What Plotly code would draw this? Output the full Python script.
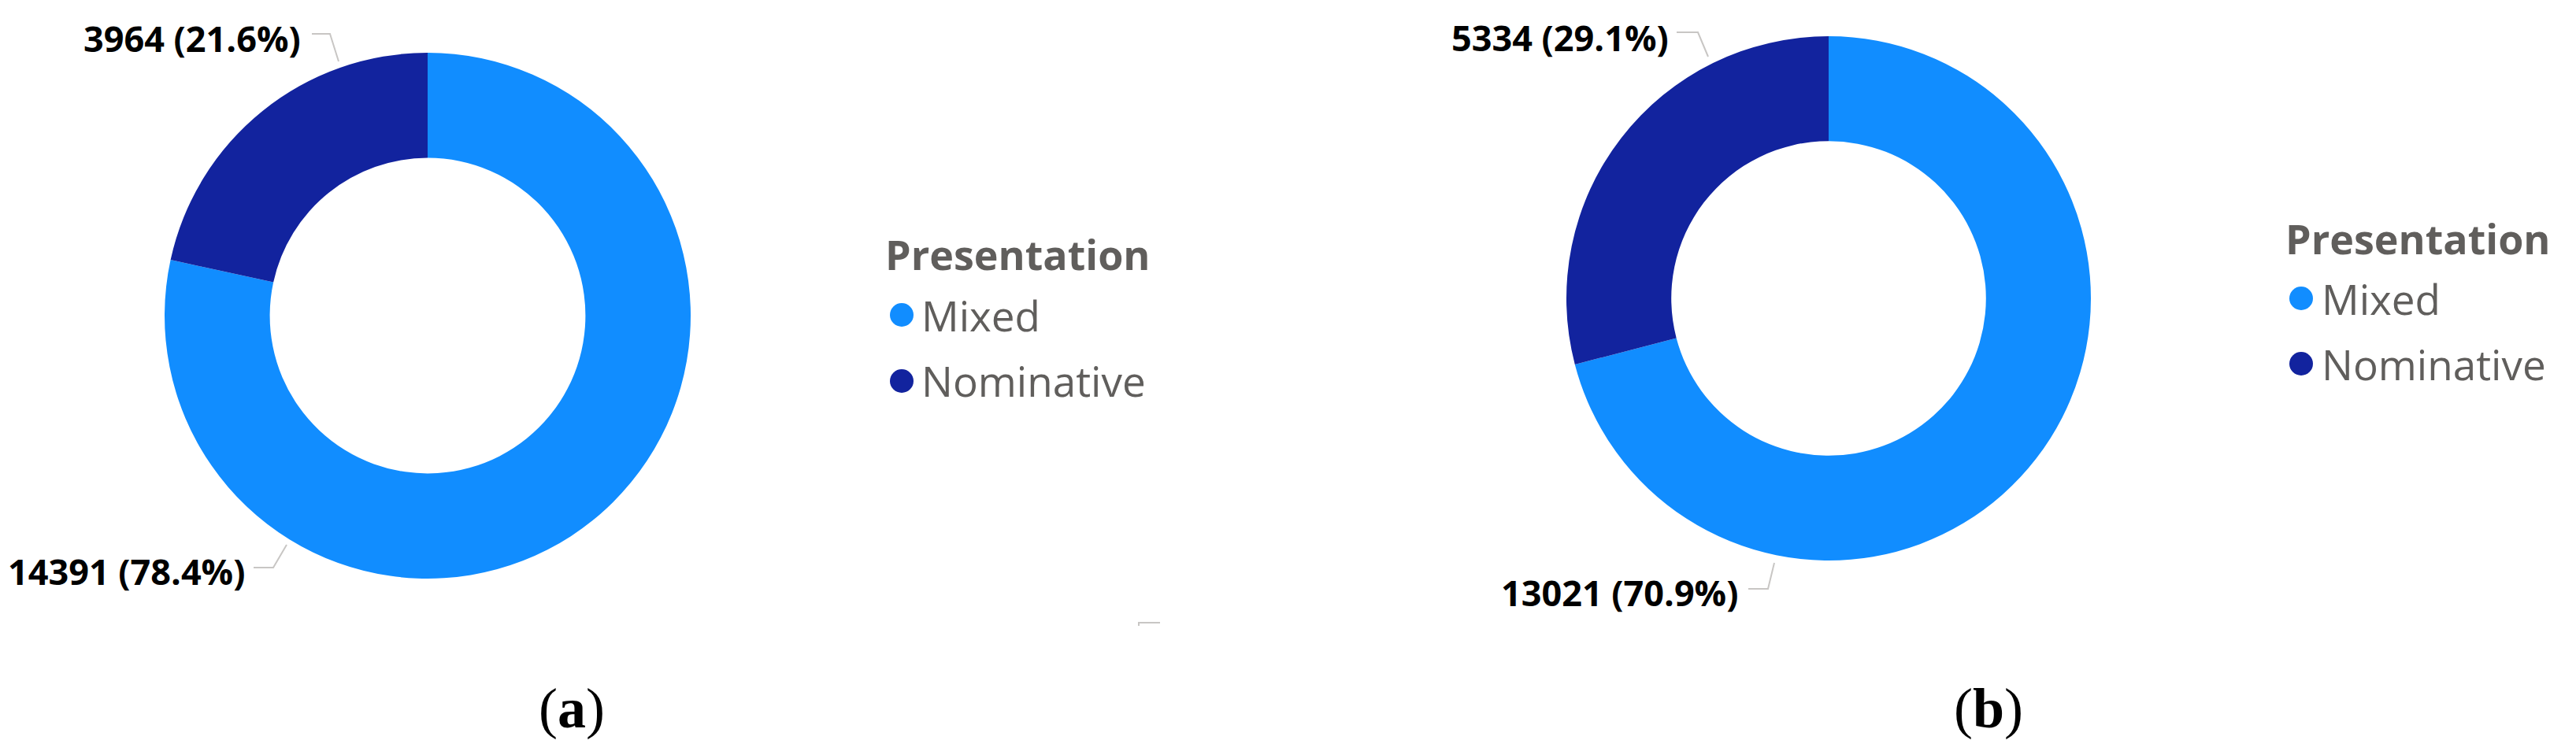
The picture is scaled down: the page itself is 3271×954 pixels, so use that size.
"""
Two donut charts (a) and (b): Mixed vs Nominative presentation counts.
Power BI look: outside labels with elbow leader lines, dot legend on the right.
"""

import plotly.graph_objects as go

# ---- data -----------------------------------------------------------------
CATEGORIES = ["Mixed", "Nominative"]
COUNTS_A = [14391, 3964]
COUNTS_B = [13021, 5334]
PANEL_TAGS = ["a", "b"]
LEGEND_TITLE = "Presentation"

# ---- style ----------------------------------------------------------------
W, H = 3271, 954
COLORS = ["#118DFF", "#12239E"]
TEXT_GREY = "#605E5C"
LEADER_GREY = "#C8C6C4"
FONT = "Open Sans"

# page-pixel placement of each panel (centre, radius, labels, legend, caption)
PANELS = [
    dict(
        cx=543, cy=401, r=334,
        label_pos=[(313, 725), (384, 49)],
        leaders=[[(322, 721), (347, 721), (364, 692)],
                 [(396, 43), (419, 43), (430, 78)]],
        legend_title=(1122, 323), legend_dot_x=1145, legend_text_x=1168,
        legend_rows=[400, 484],
        caption=(726, 900),
    ),
    dict(
        cx=2322, cy=379, r=333,
        label_pos=[(2209, 752), (2121, 47)],
        leaders=[[(2220, 748), (2245, 748), (2253, 715)],
                 [(2129, 41), (2156, 41), (2169, 72)]],
        legend_title=(2900, 302), legend_dot_x=2922, legend_text_x=2946,
        legend_rows=[379, 462],
        caption=(2525, 900),
    ),
]


def px(x):
    return x / W


def py(y):
    return 1 - y / H


fig = go.Figure()
annotations = []
shapes = []

for counts, tag, p in zip([COUNTS_A, COUNTS_B], PANEL_TAGS, PANELS):
    cx, cy, r = p["cx"], p["cy"], p["r"]
    fig.add_trace(go.Pie(
        labels=CATEGORIES,
        values=counts,
        hole=0.6,
        sort=False,
        direction="clockwise",
        rotation=0,
        marker=dict(colors=COLORS, line=dict(width=0)),
        textinfo="none",
        showlegend=False,
        domain=dict(x=[px(cx - r), px(cx + r)], y=[py(cy + r), py(cy - r)]),
    ))

    total = sum(counts)
    for v, (lx, ly), pts in zip(counts, p["label_pos"], p["leaders"]):
        annotations.append(dict(
            x=px(lx), y=py(ly), xref="paper", yref="paper",
            xanchor="right", yanchor="middle", showarrow=False,
            text=f"<b>{v} ({v / total * 100:.1f}%)</b>",
            font=dict(family=FONT, size=45, color="#000000"),
        ))
        path = "M " + " L ".join(f"{px(x)},{py(y)}" for x, y in pts)
        shapes.append(dict(type="path", path=path, xref="paper", yref="paper",
                           line=dict(color=LEADER_GREY, width=2)))

    # legend
    tx, ty = p["legend_title"]
    annotations.append(dict(
        x=px(tx), y=py(ty), xref="paper", yref="paper",
        xanchor="left", yanchor="middle", showarrow=False,
        text=f"<b>{LEGEND_TITLE}</b>",
        font=dict(family=FONT, size=52, color=TEXT_GREY),
    ))
    for name, color, ry in zip(CATEGORIES, COLORS, p["legend_rows"]):
        dx = p["legend_dot_x"]
        shapes.append(dict(type="circle", xref="paper", yref="paper",
                           x0=px(dx - 15), x1=px(dx + 15),
                           y0=py(ry + 15), y1=py(ry - 15),
                           fillcolor=color, line=dict(width=0)))
        annotations.append(dict(
            x=px(p["legend_text_x"]), y=py(ry), xref="paper", yref="paper",
            xanchor="left", yanchor="middle", showarrow=False,
            text=name,
            font=dict(family=FONT, size=53, color=TEXT_GREY),
        ))

    # caption
    cx_, cy_ = p["caption"]
    annotations.append(dict(
        x=px(cx_), y=py(cy_), xref="paper", yref="paper",
        xanchor="center", yanchor="middle", showarrow=False,
        text=f"(<b>{tag}</b>)",
        font=dict(family="Liberation Serif", size=72, color="#000000"),
    ))

# small stray tick left over in the original screenshot
shapes.append(dict(type="path", xref="paper", yref="paper",
                   path=f"M {px(1446)},{py(795)} L {px(1446)},{py(791)} L {px(1473)},{py(791)}",
                   line=dict(color=LEADER_GREY, width=2)))

fig.update_layout(
    width=W, height=H,
    margin=dict(l=0, r=0, t=0, b=0),
    paper_bgcolor="white",
    plot_bgcolor="white",
    annotations=annotations,
    shapes=shapes,
)

# drop the default 8px body margin so page pixels line up with the figure
fig.write_html(
    "out.html",
    config={"displayModeBar": False},
    post_script="document.body.style.margin='0';",
)
